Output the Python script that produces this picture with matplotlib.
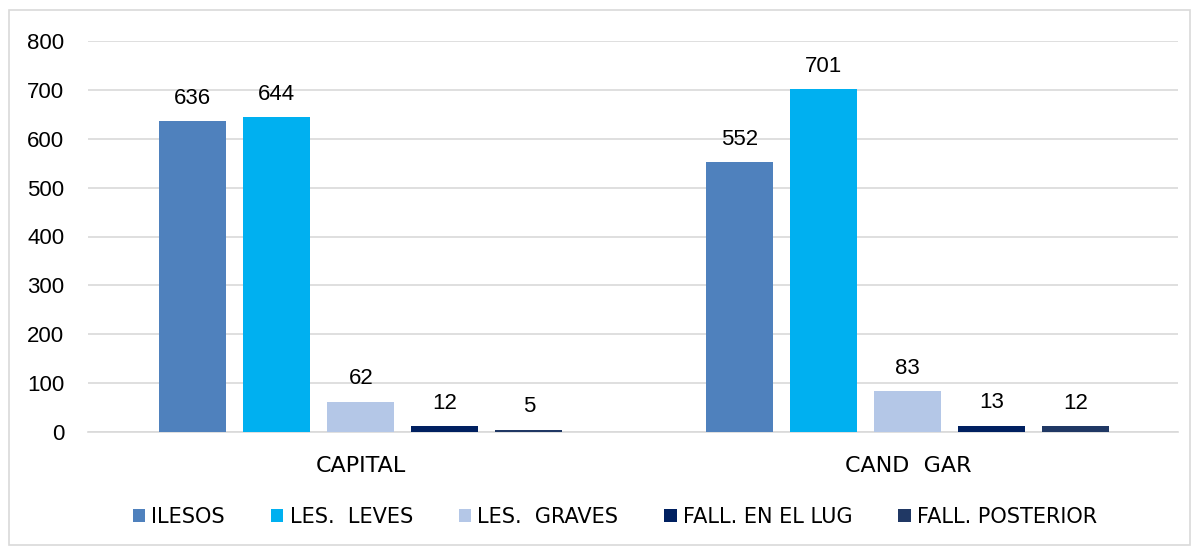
import matplotlib
matplotlib.use("Agg")
import matplotlib.pyplot as plt
from matplotlib.patches import Rectangle
import numpy as np

categories = ["CAPITAL", "CAND  GAR"]
series_names = ["ILESOS", "LES.  LEVES", "LES.  GRAVES", "FALL. EN EL LUG", "FALL. POSTERIOR"]
ilesos = [636, 552]
leves = [644, 701]
graves = [62, 83]
fall_lug = [12, 13]
fall_post = [5, 12]
series_values = [ilesos, leves, graves, fall_lug, fall_post]
colors = ["#4F81BD", "#00B0F0", "#B4C7E7", "#002060", "#203864"]
yticks = [0, 100, 200, 300, 400, 500, 600, 700, 800]

num_font = "Liberation Sans"
txt_font = "Liberation Sans Narrow"

fig = plt.figure(figsize=(12, 5.47), dpi=100)
ax = fig.add_axes([88/1200, 1-432/547, (1178-88)/1200, (432-41)/547])

x = np.arange(len(categories))
width = 0.1225
step = 0.1536
n = len(series_values)
for i, (vals, name, c) in enumerate(zip(series_values, series_names, colors)):
    pos = x + (i - (n-1)/2) * step
    bars = ax.bar(pos, vals, width=width, color=c, label=name, zorder=3)
    for b, v in zip(bars, vals):
        ax.annotate(str(v), (b.get_x()+b.get_width()/2, v), xytext=(0, 9),
                    textcoords="offset points", ha="center", va="bottom",
                    fontsize=16, family=num_font, color="#000000")

ax.set_xlim(-0.499, 1.494)
ax.set_ylim(0, 800)
ax.set_yticks(yticks)
ax.set_yticklabels([str(t) for t in yticks], fontsize=16, family=num_font)
ax.set_xticks(x)
ax.set_xticklabels(categories, fontsize=16, family=txt_font)
ax.tick_params(axis="y", length=0, pad=17)
ax.tick_params(axis="x", length=0, pad=17)
ax.grid(axis="y", color="#D9D9D9", linewidth=1.2, zorder=0)
for s in ["top", "right", "left"]:
    ax.spines[s].set_visible(False)
ax.spines["bottom"].set_color("#D9D9D9")
ax.spines["bottom"].set_linewidth(1.2)

leg = fig.legend(loc="center", bbox_to_anchor=(615/1200, 1-517/547), ncol=5,
                 frameon=False, prop={"family": txt_font, "size": 15},
                 handlelength=0.6, handleheight=0.6, handletextpad=0.3,
                 columnspacing=2.2)

fig.patches.append(Rectangle((9/1200, 2/547), (1190-9)/1200, (537-2)/547,
                             transform=fig.transFigure, fill=False,
                             edgecolor="#D9D9D9", linewidth=1.2))

fig.savefig("out.png", dpi=100)
